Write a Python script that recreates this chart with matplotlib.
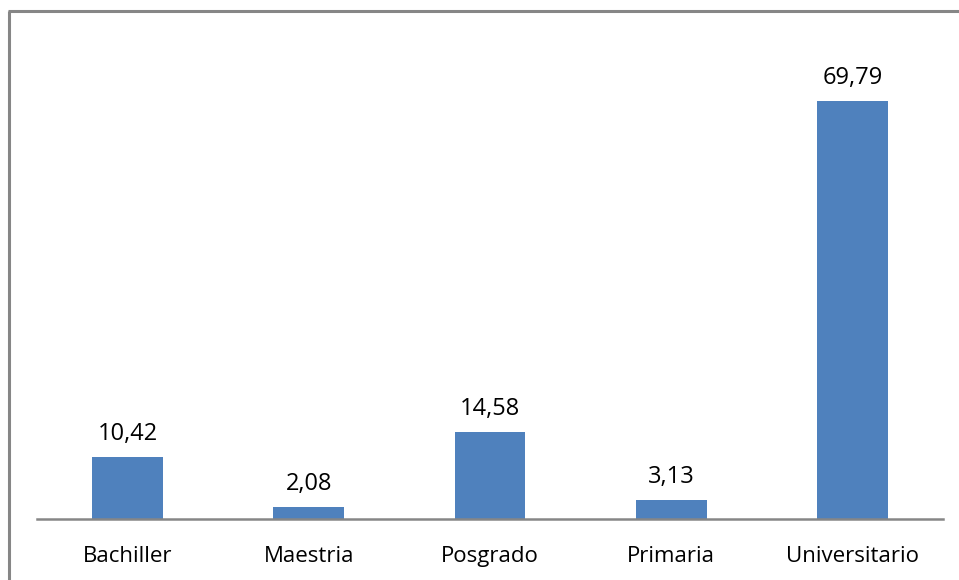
import matplotlib
matplotlib.use("Agg")
import matplotlib.pyplot as plt
from matplotlib.lines import Line2D

categories = ["Bachiller", "Maestria", "Posgrado", "Primaria", "Universitario"]
values = [10.42, 2.08, 14.58, 3.13, 69.79]
value_labels = ["10,42", "2,08", "14,58", "3,13", "69,79"]

plt.rcParams["font.family"] = ["Open Sans", "DejaVu Sans"]

W, H = 959, 580
fig = plt.figure(figsize=(W / 100, H / 100), dpi=100)
fig.patch.set_facecolor("white")

ax = fig.add_axes([37 / W, (H - 519) / H, (943 - 37) / W, (519 - 40) / H])
x = range(len(categories))
bars = ax.bar(x, values, width=0.39, color="#4F81BD", zorder=2)
ax.set_xlim(-0.5, len(categories) - 0.5)
ax.set_ylim(0, 80)

for rect, lab in zip(bars, value_labels):
    ax.annotate(lab, (rect.get_x() + rect.get_width() / 2, rect.get_height()),
                xytext=(0, 17), textcoords="offset pixels",
                ha="center", va="baseline", fontsize=17, color="black")

ax.set_xticks(list(x))
ax.set_xticklabels(categories, fontsize=16, color="black")
ax.tick_params(axis="x", length=0, pad=19.5)
ax.set_yticks([])
for s in ("top", "right", "left"):
    ax.spines[s].set_visible(False)
ax.spines["bottom"].set_color("#868686")
ax.spines["bottom"].set_linewidth(1.8)

# outer chart frame: left and top edges
fig.add_artist(Line2D([9 / W, 9 / W], [0, (H - 11) / H], color="#868686", lw=2.2,
                      transform=fig.transFigure, solid_capstyle="butt"))
fig.add_artist(Line2D([8 / W, 1], [(H - 11) / H, (H - 11) / H], color="#868686", lw=2.2,
                      transform=fig.transFigure, solid_capstyle="butt"))

fig.savefig("out.png", dpi=100)
